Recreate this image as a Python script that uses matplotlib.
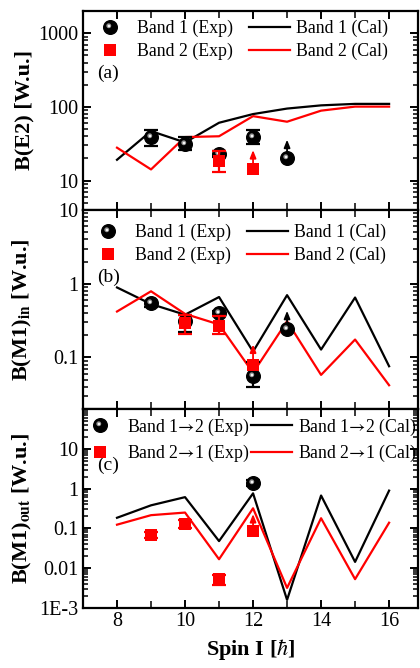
import numpy as np
import matplotlib
matplotlib.use('Agg')
import matplotlib.pyplot as plt
from matplotlib.path import Path
from matplotlib.ticker import FixedLocator, NullFormatter, LogLocator, MultipleLocator

plt.rcParams['font.family'] = ['Liberation Serif', 'DejaVu Serif']
plt.rcParams['mathtext.fontset'] = 'stix'

# ---------------- data ----------------
spins = [8, 9, 10, 11, 12, 13, 14, 15, 16]

# (a) B(E2)
e2_cal1 = [19.2, 47, 33, 61, 80, 95, 105, 110, 110]
e2_cal2 = [28, 14.2, 39, 40, 75, 63, 89, 101, 101]
e2_exp1_x = [9, 10, 11, 12]
e2_exp1_y = [38.5, 31.6, 23, 39]
e2_exp1_up = [9.5, 7.4, 2.0, 9.0]
e2_exp1_dn = [8.8, 5.9, 2.0, 8.0]
e2_lim1_x = [13]
e2_lim1_y = [20.3]
e2_lim1_to = [36]
e2_exp2_x = [11]
e2_exp2_y = [18.6]
e2_exp2_up = [6.3]
e2_exp2_dn = [5.6]
e2_lim2_x = [12]
e2_lim2_y = [14.4]
e2_lim2_to = [26]

# (b) B(M1)_in
m1in_cal1 = [0.89, 0.53, 0.38, 0.66, 0.12, 0.70, 0.128, 0.65, 0.076]
m1in_cal2 = [0.42, 0.79, 0.39, 0.28, 0.062, 0.31, 0.058, 0.175, 0.042]
m1in_exp1_x = [9, 10, 11, 12]
m1in_exp1_y = [0.54, 0.31, 0.40, 0.056]
m1in_exp1_up = [0.05, 0.07, 0.03, 0.03]
m1in_exp1_dn = [0.05, 0.09, 0.03, 0.016]
m1in_lim1_x = [13]
m1in_lim1_y = [0.245]
m1in_lim1_to = [0.43]
m1in_exp2_x = [10, 11]
m1in_exp2_y = [0.29, 0.27]
m1in_exp2_up = [0.09, 0.09]
m1in_exp2_dn = [0.08, 0.06]
m1in_lim2_x = [12]
m1in_lim2_y = [0.079]
m1in_lim2_to = [0.15]

# (c) B(M1)_out
m1out_cal1 = [0.185, 0.38, 0.61, 0.048, 0.76, 0.0016, 0.67, 0.0144, 0.89]
m1out_cal2 = [0.124, 0.215, 0.25, 0.0168, 0.32, 0.0032, 0.18, 0.0053, 0.139]
m1out_exp1_x = [12]
m1out_exp1_y = [1.39]
m1out_exp1_up = [0.25]
m1out_exp1_dn = [0.25]
m1out_exp2_x = [9, 10, 11]
m1out_exp2_y = [0.07, 0.13, 0.0053]
m1out_exp2_up = [0.012, 0.03, 0.0015]
m1out_exp2_dn = [0.012, 0.03, 0.0015]
m1out_lim2_x = [12]
m1out_lim2_y = [0.084]
m1out_lim2_to = [0.23]

labels_ab = ['Band 1 (Exp)', 'Band 2 (Exp)', 'Band 1 (Cal)', 'Band 2 (Cal)']
labels_c = ['Band 1$\u2192$2 (Exp)', 'Band 2$\u2192$1 (Exp)',
            'Band 1$\u2192$2 (Cal)', 'Band 2$\u2192$1 (Cal)']

RED = '#ff0000'

# ---------------- figure ----------------
fig = plt.figure(figsize=(4.2, 6.68), dpi=100)
L, W, H = 83 / 420, 335 / 420, 199 / 668
axa = fig.add_axes([L, (668 - 210) / 668, W, H])
axb = fig.add_axes([L, (668 - 409) / 668, W, H])
axc = fig.add_axes([L, (668 - 608) / 668, W, H])

hl1 = Path.circle((-1.2, 1.2), 1.7)
hl2 = Path.circle((-1.0, 1.0), 0.9)
MS = 9.8


def sphere(ax, x, y, zorder=4):
    h0, = ax.plot(x, y, 'o', ls='none', color='black', ms=MS, zorder=zorder)
    h1, = ax.plot(x, y, marker=hl1, ls='none', color='#8a8a8a', mew=0, ms=MS * 0.62, zorder=zorder + 0.1)
    h2, = ax.plot(x, y, marker=hl2, ls='none', color='#f4f4f4', mew=0, ms=MS * 0.42, zorder=zorder + 0.2)
    return (h0, h1, h2)


def square(ax, x, y, zorder=5):
    h, = ax.plot(x, y, 's', ls='none', color=RED, ms=8, mew=0, zorder=zorder)
    return h


def errs(ax, x, y, dn, up, color, zorder):
    ax.errorbar(x, y, yerr=[dn, up], fmt='none', ecolor=color, elinewidth=1.6,
                capsize=4.8, capthick=1.6, zorder=zorder)


def arrows(ax, x, y, to, color, zorder):
    for xi, yi, ti in zip(x, y, to):
        ax.annotate('', xy=(xi, ti), xytext=(xi, yi),
                    arrowprops=dict(arrowstyle='-|>,head_length=0.45,head_width=0.18',
                                    color=color, lw=1.3, shrinkA=0, shrinkB=0),
                    zorder=zorder)


def style(ax, yticks, ylabels, ylim):
    ax.set_xlim(7, 16.85)
    ax.set_yscale('log')
    ax.set_ylim(*ylim)
    ax.yaxis.set_major_locator(FixedLocator(yticks))
    ax.set_yticklabels(ylabels)
    ax.yaxis.set_minor_locator(LogLocator(base=10, subs=np.arange(2, 10), numticks=20))
    ax.yaxis.set_minor_formatter(NullFormatter())
    ax.xaxis.set_major_locator(MultipleLocator(2))
    ax.xaxis.set_minor_locator(MultipleLocator(1))
    ax.tick_params(which='both', direction='in', top=True, right=True)
    ax.tick_params(which='major', length=6, width=1.4, labelsize=14.5, pad=3)
    ax.tick_params(which='minor', length=3.5, width=1.1)
    ax.tick_params(axis='x', which='minor', length=5)
    for s in ax.spines.values():
        s.set_linewidth(1.6)
    ax.yaxis.set_label_coords(-0.145, 0.5)


def legend(ax, handles, labels, anchor, colsp):
    ax.legend(handles, labels, ncol=2, loc='upper left', bbox_to_anchor=anchor, frameon=False,
              fontsize=12.8, borderpad=0, borderaxespad=0, handlelength=2.3,
              handletextpad=0.35, columnspacing=colsp, labelspacing=0.3)


# ---- panel (a)
la1, = axa.plot(spins, e2_cal1, color='black', lw=1.6, zorder=2)
la2, = axa.plot(spins, e2_cal2, color=RED, lw=1.6, zorder=2)
errs(axa, e2_exp1_x, e2_exp1_y, e2_exp1_dn, e2_exp1_up, 'black', 3)
sa = sphere(axa, e2_exp1_x, e2_exp1_y)
arrows(axa, e2_lim1_x, e2_lim1_y, e2_lim1_to, 'black', 3)
sphere(axa, e2_lim1_x, e2_lim1_y)
errs(axa, e2_exp2_x, e2_exp2_y, e2_exp2_dn, e2_exp2_up, RED, 5)
qa = square(axa, e2_exp2_x, e2_exp2_y)
arrows(axa, e2_lim2_x, e2_lim2_y, e2_lim2_to, RED, 5)
square(axa, e2_lim2_x, e2_lim2_y)
style(axa, [10, 100, 1000], ['10', '100', '1000'], (4, 2000))
axa.tick_params(labelbottom=False)
axa.set_ylabel('B(E2) [W.u.]', fontsize=16, fontweight='bold')
axa.text(0.042, 0.688, '(a)', transform=axa.transAxes, fontsize=14, ha='left', va='center')
legend(axa, [sa, qa, la1, la2], labels_ab, (0.02, 0.955), 0.9)

# ---- panel (b)
lb1, = axb.plot(spins, m1in_cal1, color='black', lw=1.6, zorder=2)
lb2, = axb.plot(spins, m1in_cal2, color=RED, lw=1.6, zorder=2)
errs(axb, m1in_exp1_x, m1in_exp1_y, m1in_exp1_dn, m1in_exp1_up, 'black', 3)
sb = sphere(axb, m1in_exp1_x, m1in_exp1_y)
arrows(axb, m1in_lim1_x, m1in_lim1_y, m1in_lim1_to, 'black', 3)
sphere(axb, m1in_lim1_x, m1in_lim1_y)
errs(axb, m1in_exp2_x, m1in_exp2_y, m1in_exp2_dn, m1in_exp2_up, RED, 5)
qb = square(axb, m1in_exp2_x, m1in_exp2_y)
arrows(axb, m1in_lim2_x, m1in_lim2_y, m1in_lim2_to, RED, 5)
square(axb, m1in_lim2_x, m1in_lim2_y)
style(axb, [0.1, 1, 10], ['0.1', '1', '10'], (0.02, 10))
axb.tick_params(labelbottom=False)
axb.set_ylabel(r'B(M1)$_{\mathbf{in}}$ [W.u.]', fontsize=16, fontweight='bold')
axb.text(0.042, 0.663, '(b)', transform=axb.transAxes, fontsize=14, ha='left', va='center')
legend(axb, [sb, qb, lb1, lb2], labels_ab, (0.015, 0.93), 0.9)

# ---- panel (c)
lc1, = axc.plot(spins, m1out_cal1, color='black', lw=1.6, zorder=2)
lc2, = axc.plot(spins, m1out_cal2, color=RED, lw=1.6, zorder=2)
errs(axc, m1out_exp1_x, m1out_exp1_y, m1out_exp1_dn, m1out_exp1_up, 'black', 3)
sc = sphere(axc, m1out_exp1_x, m1out_exp1_y)
errs(axc, m1out_exp2_x, m1out_exp2_y, m1out_exp2_dn, m1out_exp2_up, RED, 5)
qc = square(axc, m1out_exp2_x, m1out_exp2_y)
arrows(axc, m1out_lim2_x, m1out_lim2_y, m1out_lim2_to, RED, 5)
square(axc, m1out_lim2_x, m1out_lim2_y)
style(axc, [1e-3, 0.01, 0.1, 1, 10, 100], ['1E-3', '0.01', '0.1', '1', '10', ''], (1e-3, 100))
axc.set_ylabel(r'B(M1)$_{\mathbf{out}}$ [W.u.]', fontsize=16, fontweight='bold')
axc.set_xlabel(r'Spin I [$\hbar$]', fontsize=16, fontweight='bold', labelpad=4)
axc.text(0.042, 0.719, '(c)', transform=axc.transAxes, fontsize=14, ha='left', va='center')
legend(axc, [sc, qc, lc1, lc2], labels_c, (-0.01, 0.962), 0.1)

fig.savefig('out.png', dpi=100)
